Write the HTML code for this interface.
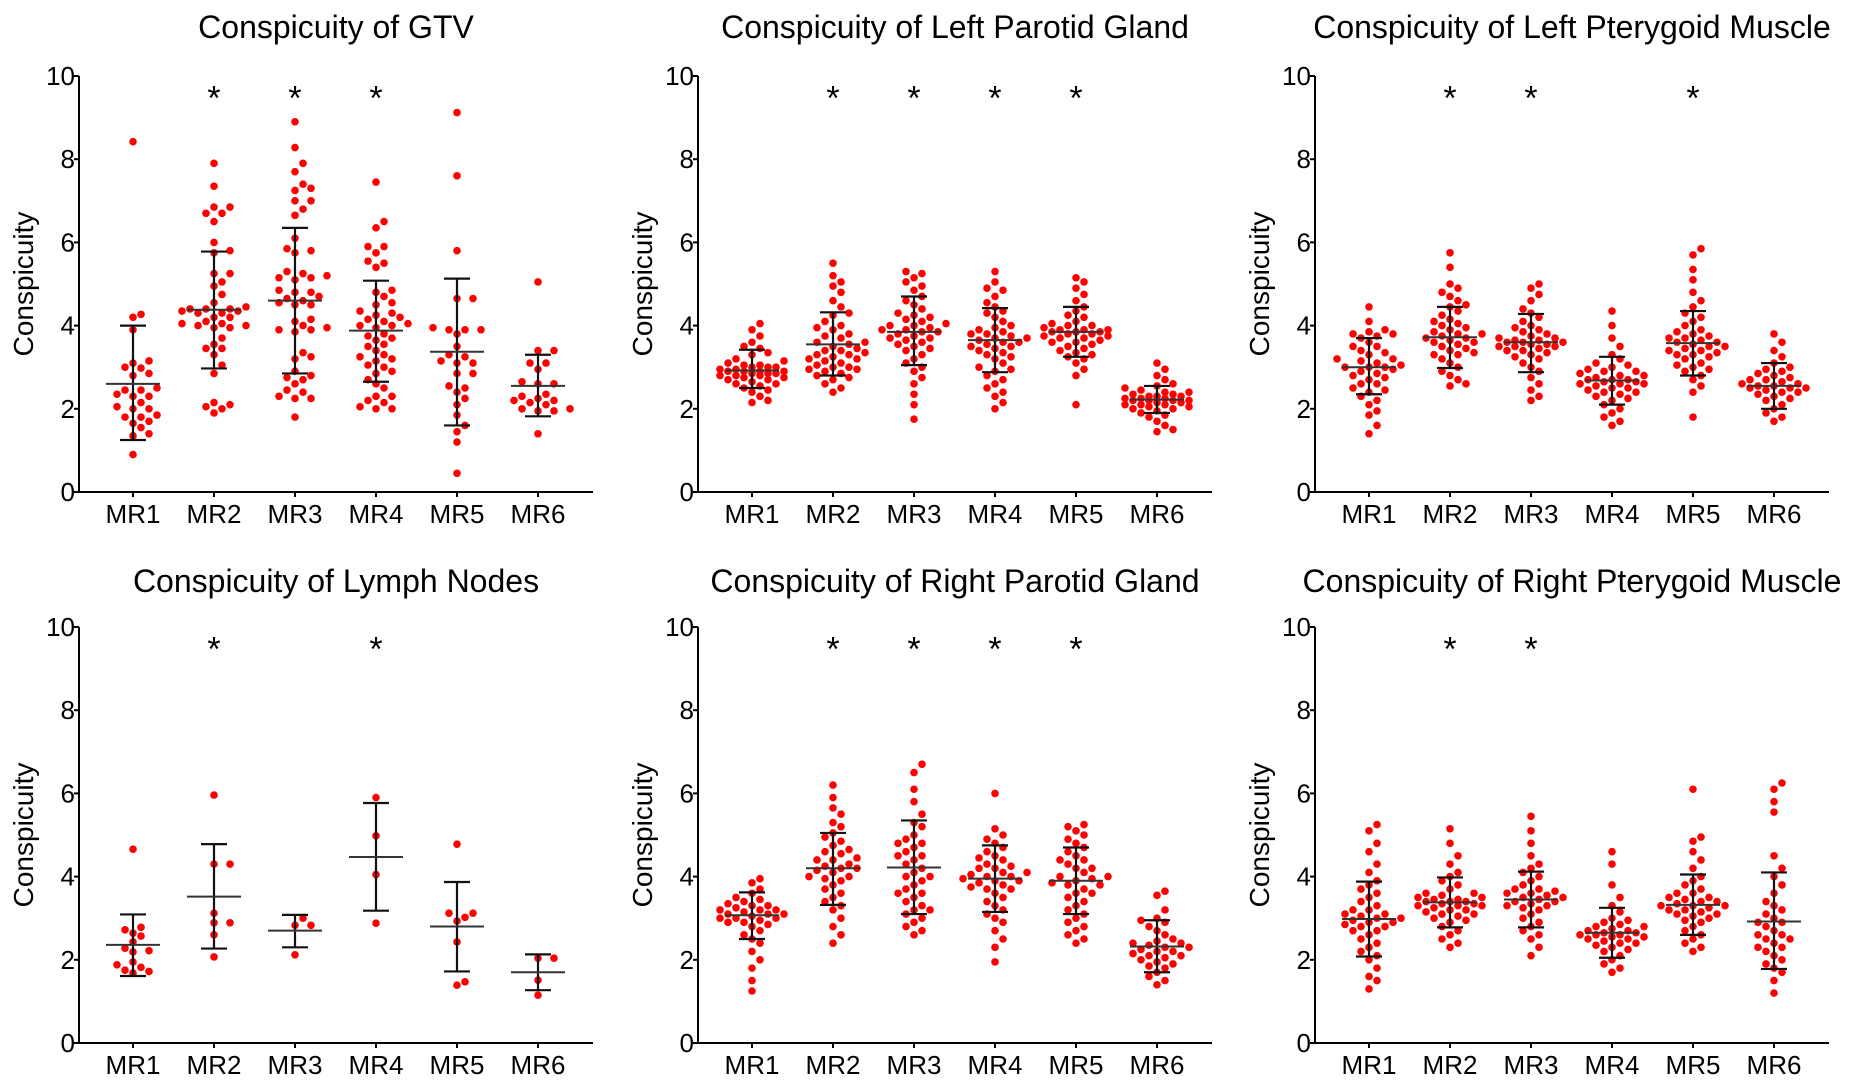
<!DOCTYPE html>
<html><head><meta charset="utf-8"><style>
html,body{margin:0;padding:0;background:#fff;}
svg{display:block;font-family:"Liberation Sans",Arial,sans-serif;}
</style></head><body>
<svg id="chart" width="1854" height="1087" viewBox="0 0 1854 1087"></svg>
<script>
const categories = ["MR1","MR2","MR3","MR4","MR5","MR6"];
const yTicks = [0,2,4,6,8,10];
const panelTitles = ["Conspicuity of GTV","Conspicuity of Left Parotid Gland","Conspicuity of Left Pterygoid Muscle","Conspicuity of Lymph Nodes","Conspicuity of Right Parotid Gland","Conspicuity of Right Pterygoid Muscle"];
const panelStars = [[1,2,3],[1,2,3,4],[1,2,4],[1,3],[1,2,3,4],[1,2]];
const meansGTV=[2.6,4.38,4.6,3.88,3.37,2.55], loGTV=[1.25,2.97,2.85,2.65,1.6,1.82], hiGTV=[4.0,5.78,6.35,5.08,5.13,3.3];
const meansLPG=[2.92,3.55,3.85,3.65,3.85,2.22], loLPG=[2.5,2.8,3.05,2.88,3.25,1.9], hiLPG=[3.42,4.32,4.7,4.42,4.45,2.55];
const meansLPM=[3.0,3.72,3.6,2.68,3.58,2.55], loLPM=[2.35,2.98,2.88,2.1,2.8,2.0], hiLPM=[3.7,4.45,4.28,3.25,4.35,3.1];
const meansLN=[2.36,3.52,2.7,4.47,2.8,1.7], loLN=[1.61,2.27,2.3,3.18,1.72,1.27], hiLN=[3.09,4.78,3.08,5.77,3.87,2.13];
const meansRPG=[3.07,4.2,4.22,3.95,3.9,2.32], loRPG=[2.5,3.32,3.1,3.15,3.1,1.7], hiRPG=[3.62,5.05,5.35,4.75,4.7,2.95];
const meansRPM=[2.98,3.38,3.45,2.65,3.32,2.92], loRPM=[2.08,2.78,2.78,2.05,2.6,1.78], hiRPM=[3.88,3.98,4.12,3.25,4.05,4.1];

const gtv=[
[8.42,4.2,4.27,3.9,3.15,3.1,3.0,2.98,2.85,2.8,2.5,2.45,2.45,2.35,2.3,2.3,2.15,2.05,2.0,2.0,1.85,1.8,1.8,1.7,1.65,1.55,1.4,1.35,0.9],
[7.9,7.35,6.85,6.85,6.7,6.7,6.5,6.0,5.8,5.75,5.25,5.25,5.05,4.95,4.75,4.55,4.45,4.4,4.4,4.4,4.35,4.35,4.3,4.3,4.2,4.2,4.1,4.05,4.05,4.0,4.0,3.95,3.95,3.7,3.55,3.45,3.45,3.3,3.05,2.85,2.15,2.1,2.05,2.0,1.9],
[8.9,8.28,7.9,7.7,7.4,7.3,7.25,7.0,7.0,6.8,6.65,6.1,5.85,5.8,5.75,5.3,5.25,5.2,5.15,5.15,5.1,4.85,4.8,4.8,4.7,4.65,4.6,4.55,4.5,4.5,4.15,4.1,4.0,3.95,3.9,3.9,3.85,3.35,3.25,3.2,2.9,2.8,2.75,2.7,2.6,2.45,2.4,2.3,2.25,2.25,1.8],
[7.45,6.5,6.35,5.9,5.9,5.75,5.55,5.5,5.4,4.85,4.8,4.7,4.55,4.5,4.35,4.3,4.25,4.2,4.15,4.1,4.05,4.0,4.0,3.95,3.8,3.75,3.7,3.65,3.55,3.5,3.4,3.3,3.25,3.2,3.15,3.05,3.0,2.9,2.85,2.7,2.6,2.5,2.3,2.3,2.2,2.15,2.05,2.0,2.0],
[9.12,7.6,5.8,4.65,4.65,3.95,3.9,3.9,3.9,3.8,3.5,3.3,3.25,3.15,3.1,3.1,2.85,2.85,2.55,2.5,2.4,2.25,2.1,1.85,1.6,1.45,1.2,0.45],
[5.05,3.4,3.4,3.1,3.1,2.95,2.65,2.6,2.6,2.35,2.3,2.25,2.2,2.2,2.15,2.1,2.0,2.0,1.95,1.95,1.4]];
const lpg=[
[4.05,3.9,3.75,3.6,3.5,3.45,3.35,3.3,3.2,3.15,3.1,3.05,3.05,3.0,3.0,2.95,2.95,2.9,2.9,2.9,2.85,2.85,2.8,2.8,2.8,2.75,2.75,2.7,2.7,2.65,2.6,2.55,2.5,2.45,2.4,2.3,2.2,2.15,2.6,2.9,3.0,2.85],
[5.5,5.2,5.05,4.95,4.8,4.6,4.45,4.3,4.25,4.1,4.0,3.95,3.9,3.8,3.7,3.6,3.55,3.5,3.45,3.4,3.35,3.3,3.25,3.2,3.15,3.1,3.05,3.0,3.0,2.95,2.9,2.85,2.8,2.75,2.7,2.6,2.5,2.4,3.4,3.3,3.2,3.6,3.75,2.95],
[5.3,5.25,5.15,5.05,4.95,4.85,4.7,4.6,4.5,4.4,4.3,4.25,4.2,4.1,4.05,4.0,3.95,3.9,3.9,3.85,3.8,3.75,3.7,3.65,3.6,3.55,3.5,3.4,3.3,3.2,3.1,3.0,2.9,2.75,2.6,2.35,2.1,1.75,4.0,3.85,4.15,3.7,3.45],
[5.3,5.05,4.9,4.85,4.7,4.55,4.45,4.35,4.3,4.2,4.1,4.0,3.95,3.9,3.85,3.8,3.75,3.7,3.65,3.6,3.55,3.5,3.45,3.4,3.35,3.3,3.2,3.1,3.0,2.9,2.8,2.7,2.6,2.5,2.4,2.3,2.15,2.0,3.7,3.6,3.5,3.8,3.25,2.95],
[5.15,5.05,4.9,4.75,4.6,4.45,4.35,4.25,4.2,4.1,4.05,4.0,3.95,3.9,3.9,3.85,3.85,3.8,3.8,3.75,3.7,3.65,3.6,3.55,3.5,3.45,3.4,3.35,3.3,3.25,3.2,3.1,2.95,2.8,2.1,3.9,3.75,4.0,3.6,3.7,3.85],
[3.1,2.95,2.8,2.7,2.6,2.55,2.5,2.45,2.4,2.4,2.35,2.3,2.3,2.25,2.25,2.2,2.2,2.2,2.15,2.15,2.1,2.1,2.05,2.0,2.0,1.95,1.9,1.85,1.8,1.7,1.6,1.5,1.45,2.3,2.2,2.1,2.35,2.25,2.05]];
const lpm=[
[4.45,4.1,3.9,3.85,3.8,3.75,3.7,3.6,3.5,3.4,3.35,3.3,3.2,3.15,3.1,3.05,3.0,3.0,2.95,2.9,2.85,2.8,2.75,2.7,2.6,2.5,2.45,2.4,2.3,2.2,2.1,1.95,1.85,1.6,1.4,3.8,3.5,3.2,3.0,2.6],
[5.75,5.4,5.0,4.9,4.8,4.7,4.6,4.5,4.45,4.35,4.25,4.15,4.05,4.0,3.95,3.9,3.85,3.8,3.75,3.7,3.65,3.6,3.55,3.5,3.45,3.4,3.35,3.3,3.2,3.1,3.0,2.9,2.8,2.7,2.6,2.55,3.7,3.8,3.6,4.1,3.3],
[5.0,4.9,4.75,4.6,4.4,4.3,4.2,4.1,4.0,3.95,3.9,3.85,3.8,3.75,3.7,3.65,3.6,3.6,3.55,3.5,3.5,3.45,3.4,3.35,3.3,3.25,3.2,3.1,3.0,2.9,2.75,2.6,2.45,2.3,2.2,3.6,3.7,3.5,3.65,3.55,3.4],
[4.35,4.0,3.7,3.5,3.3,3.2,3.1,3.05,3.0,2.95,2.9,2.85,2.8,2.75,2.7,2.7,2.65,2.6,2.6,2.55,2.5,2.45,2.4,2.35,2.3,2.25,2.2,2.1,2.0,1.9,1.8,1.7,1.6,2.7,2.6,2.8,2.5,2.65,2.9,2.4],
[5.85,5.7,5.35,5.1,4.8,4.6,4.45,4.3,4.2,4.1,4.0,3.9,3.85,3.8,3.75,3.7,3.65,3.6,3.55,3.5,3.45,3.4,3.35,3.3,3.25,3.2,3.1,3.05,3.0,2.95,2.9,2.8,2.7,2.55,2.4,1.8,3.5,3.6,3.4,3.7,3.3],
[3.8,3.6,3.4,3.25,3.1,3.0,2.95,2.9,2.85,2.8,2.75,2.7,2.65,2.6,2.55,2.5,2.5,2.45,2.4,2.35,2.3,2.25,2.2,2.1,2.0,1.9,1.8,1.7,2.6,2.5,2.4,2.7,2.55]];
const ln=[
[4.66,2.78,2.57,2.72,2.64,2.43,2.28,2.19,2.22,1.95,1.88,1.82,1.72,1.75,1.68],
[5.96,4.3,4.3,3.12,2.89,2.89,2.6,2.07],
[3.0,2.83,2.83,2.12],
[5.9,4.98,4.05,2.88],
[4.78,3.12,3.12,3.02,2.93,2.43,1.47,1.39],
[2.04,2.04,1.51,1.15]];
const rpg=[
[3.95,3.85,3.7,3.6,3.5,3.45,3.4,3.35,3.3,3.25,3.2,3.2,3.15,3.1,3.1,3.05,3.0,3.0,2.95,2.9,2.85,2.8,2.7,2.6,2.5,2.4,2.2,2.0,1.8,1.5,1.25,3.1,3.2,3.0,3.3,2.9],
[6.2,5.9,5.65,5.5,5.3,5.2,5.05,4.95,4.85,4.75,4.65,4.55,4.45,4.4,4.3,4.25,4.2,4.15,4.1,4.0,3.95,3.9,3.8,3.7,3.6,3.5,3.4,3.3,3.2,3.0,2.8,2.6,2.4,4.2,4.4,4.0,4.6],
[6.7,6.5,6.1,5.8,5.5,5.3,5.2,5.0,4.9,4.8,4.7,4.6,4.5,4.4,4.3,4.2,4.1,4.0,3.9,3.8,3.7,3.6,3.5,3.4,3.3,3.2,3.1,3.0,2.9,2.8,2.7,2.6,4.5,4.0,3.6,3.2,4.8],
[6.0,5.15,5.0,4.9,4.8,4.7,4.6,4.5,4.45,4.4,4.3,4.25,4.2,4.1,4.05,4.0,3.95,3.9,3.85,3.8,3.75,3.7,3.6,3.5,3.4,3.3,3.2,3.1,3.0,2.9,2.7,2.5,2.3,1.95,4.0,4.1,3.9,3.7,4.2],
[5.25,5.2,5.1,5.0,4.9,4.8,4.7,4.6,4.5,4.4,4.3,4.2,4.1,4.0,3.95,3.9,3.85,3.8,3.7,3.6,3.5,3.4,3.3,3.2,3.1,3.0,2.9,2.8,2.7,2.6,2.5,2.4,4.0,3.8,3.6,4.2,4.4],
[3.65,3.55,3.2,3.0,2.95,2.9,2.8,2.7,2.6,2.5,2.45,2.4,2.35,2.3,2.25,2.2,2.15,2.1,2.05,2.0,1.95,1.9,1.85,1.8,1.7,1.6,1.5,1.4,2.3,2.2,2.1,2.4]];
const rpm=[
[5.25,5.1,4.8,4.6,4.3,4.1,3.9,3.8,3.7,3.6,3.5,3.4,3.3,3.2,3.1,3.05,3.0,2.95,2.9,2.85,2.8,2.7,2.6,2.5,2.4,2.3,2.2,2.1,2.0,1.8,1.6,1.5,1.3,3.0,2.9,3.1,2.8,3.2,2.7],
[5.15,4.8,4.5,4.3,4.1,4.0,3.9,3.8,3.7,3.6,3.55,3.5,3.45,3.4,3.4,3.35,3.3,3.3,3.25,3.2,3.15,3.1,3.05,3.0,2.95,2.9,2.8,2.7,2.6,2.5,2.4,2.3,3.4,3.3,3.5,3.2,3.6,3.1,3.35,3.45],
[5.45,5.1,4.8,4.5,4.3,4.2,4.1,4.0,3.9,3.8,3.7,3.65,3.6,3.55,3.5,3.45,3.4,3.35,3.3,3.25,3.2,3.1,3.0,2.9,2.8,2.7,2.6,2.5,2.3,2.1,3.5,3.4,3.6,3.3,3.7],
[4.6,4.3,3.8,3.5,3.3,3.15,3.0,2.95,2.9,2.85,2.8,2.75,2.7,2.65,2.6,2.6,2.55,2.5,2.45,2.4,2.35,2.3,2.25,2.2,2.1,2.0,1.9,1.8,1.7,2.7,2.6,2.5,2.65,2.55,2.8,2.4],
[6.1,4.95,4.85,4.6,4.4,4.2,4.0,3.9,3.8,3.7,3.6,3.5,3.45,3.4,3.35,3.3,3.3,3.25,3.2,3.15,3.1,3.05,3.0,2.95,2.9,2.8,2.7,2.6,2.5,2.4,2.3,2.2,3.3,3.4,3.2,3.5,3.1,3.6],
[6.25,6.1,5.8,5.55,4.5,4.2,4.0,3.8,3.6,3.4,3.2,3.1,3.0,2.9,2.8,2.7,2.6,2.5,2.4,2.3,2.2,2.1,2.0,1.9,1.8,1.7,1.5,1.2,2.9,2.6,2.3,3.3,2.5]];

const panelData=[gtv,lpg,lpm,ln,rpg,rpm];
const panelMeans=[meansGTV,meansLPG,meansLPM,meansLN,meansRPG,meansRPM];
const panelLo=[loGTV,loLPG,loLPM,loLN,loRPG,loRPM];
const panelHi=[hiGTV,hiLPG,hiLPM,hiLN,hiRPG,hiRPM];

const NS="http://www.w3.org/2000/svg";
const svg=document.getElementById('chart');
function mk(tag,attrs,parent){const e=document.createElementNS(NS,tag);for(const k in attrs)e.setAttribute(k,attrs[k]);(parent||svg).appendChild(e);return e;}
const colX=[79,698,1315], rowBottom=[492,1043], rowTop=[76,627], axisLen=514;
const R=3.8;

for(let p=0;p<6;p++){
  const col=p%3,row=Math.floor(p/3);
  const x0=colX[col], yb=rowBottom[row], yt=rowTop[row];
  const yScale=v=>yb-(v/10)*(yb-yt);
  const xScale=i=>x0+54+i*81;
  const g=mk('g',{});
  
  
  const t=mk('text',{x:x0+257,y:row?592:38,'text-anchor':'middle','font-size':32,fill:'#000'},g);
  t.textContent=panelTitles[p];
  
  
  const yl=mk('text',{x:0,y:0,'text-anchor':'middle','font-size':28,fill:'#000',transform:`translate(${x0-46},${(yb+yt)/2}) rotate(-90)`},g);
  yl.textContent='Conspicuity';
  
  
  const ya=mk('line',{x1:x0,y1:yt,x2:x0,y2:yb+1,stroke:'#000','stroke-width':2},g);
  
  
  const xa=mk('line',{x1:x0-1,y1:yb,x2:x0+axisLen,y2:yb,stroke:'#000','stroke-width':2},g);
  
  
  yTicks.forEach(v=>{
    mk('line',{x1:x0-5,y1:yScale(v),x2:x0,y2:yScale(v),stroke:'#000','stroke-width':2},g);
    const tl=mk('text',{x:x0-4,y:yScale(v)+9,'text-anchor':'end','font-size':26,fill:'#000'},g);
    tl.textContent=v;
    
    
  });
  categories.forEach((c,i)=>{
    mk('line',{x1:xScale(i),y1:yb,x2:xScale(i),y2:yb+5,stroke:'#000','stroke-width':2},g);
    const tl=mk('text',{x:xScale(i),y:yb+31,'text-anchor':'middle','font-size':26,fill:'#000'},g);
    tl.textContent=c;
    
    
  });
  panelStars[p].forEach(i=>{
    const s=mk('text',{x:xScale(i),y:yScale(9.6)+17,'text-anchor':'middle','font-size':34,fill:'#000'},g);
    s.textContent='*';
    
    
  });
  panelData[p].forEach((vals,i)=>{
    const cx=xScale(i);
    const placed=[];
    const sorted=vals.slice().sort((a,b)=>a-b);
    sorted.forEach(v=>{
      const y=yScale(v);
      let off=0, best=-1, bestOff=0;
      for(let k=0;k<9;k++){
        const cand=k===0?0:(k%2?1:-1)*Math.ceil(k/2)*8;
        const dmin=placed.reduce((m,q)=>Math.min(m,Math.hypot(q[0]-(cx+cand),q[1]-y)),1e9);
        if(dmin>=8.5){bestOff=cand;best=1e9;break;}
        if(dmin>best){best=dmin;bestOff=cand;}
      }
      off=bestOff;
      placed.push([cx+off,y]);
      const d=mk('circle',{cx:cx+off,cy:y,r:R,fill:'#ff0000'},g);
      
      
    });
    const m=panelMeans[p][i], lo=panelLo[p][i], hi=panelHi[p][i];
    const eb=mk('g',{},g);
    
    
    mk('line',{x1:cx,y1:yScale(lo),x2:cx,y2:yScale(hi),stroke:'#111','stroke-width':2.2},eb);
    mk('line',{x1:cx-13,y1:yScale(lo),x2:cx+13,y2:yScale(lo),stroke:'#111','stroke-width':2.2},eb);
    mk('line',{x1:cx-13,y1:yScale(hi),x2:cx+13,y2:yScale(hi),stroke:'#111','stroke-width':2.2},eb);
    const ml=mk('line',{x1:cx-27,y1:yScale(m),x2:cx+27,y2:yScale(m),stroke:'#333','stroke-width':2},g);
    
    
  });
}
</script>
</body></html>
